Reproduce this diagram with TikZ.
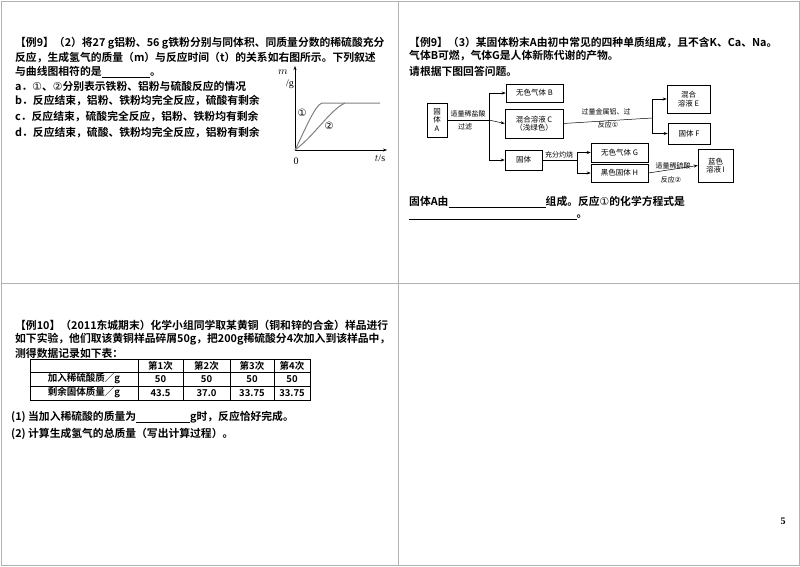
\documentclass[tikz,border=0pt]{standalone}
\usepackage{fontspec}
\setmainfont{Liberation Serif}
\newfontfamily\cjk{Noto Sans CJK SC}
\newfontfamily\cjkb{Noto Sans CJK SC Bold}
\newfontfamily\dejavu{DejaVu Sans}
\usetikzlibrary{arrows.meta}
\begin{document}
\begin{tikzpicture}[x=1pt,y=-1pt,
  txt/.style={anchor=west,inner sep=0pt,font=\cjkb\fontsize{10.8}{12}\selectfont},
  small/.style={inner sep=0pt,font=\cjk\fontsize{7}{8}\selectfont,align=center},
  bx/.style={draw,line width=0.6pt,inner sep=0pt,font=\cjk\fontsize{7.5}{8.5}\selectfont,align=center},
  ar/.style={-{Stealth[length=4pt,width=3pt]},line width=0.5pt},
  ln/.style={line width=0.5pt},
  cell/.style={inner sep=0pt,font=\cjkb\fontsize{9.5}{11}\selectfont}]
\useasboundingbox (0,0) rectangle (800,566);
\draw[gray!60,line width=1pt] (1,1) rectangle (799,565);
\draw[gray!60,line width=1pt] (398,1) -- (398,565) (1,283) -- (799,283);
% ---- top-left
\node[txt] (l1) at (15,43) {【例9】（2）将27 g铝粉、56 g铁粉分别与同体积、同质量分数的稀硫酸充分};
\node[txt] (l2) at (15,58) {反应，生成氢气的质量（m）与反应时间（t）的关系如右图所示。下列叙述};
\node[txt] (l3) at (15,72) {与曲线图相符的是\underline{\hspace{4.5em}}。};
\node[txt] (la) at (15,86) {a．{\dejavu ①}、{\dejavu ②}分别表示铁粉、铝粉与硫酸反应的情况};
\node[txt] (lb) at (15,101) {b．反应结束，铝粉、铁粉均完全反应，硫酸有剩余};
\node[txt] (lc) at (15,117) {c．反应结束，硫酸完全反应，铝粉、铁粉均有剩余};
\node[txt] (ld) at (15,133) {d．反应结束，硫酸、铁粉均完全反应，铝粉有剩余};
\coordinate (o) at (295,150);
\coordinate (ytop) at (295,66);
\coordinate (xend) at (387,150);
\draw[ar] (o) -- (ytop);
\draw[ar] (o) -- (xend);
\node[font=\itshape\fontsize{11}{11}\selectfont,inner sep=0pt] (m) at (283,72) {$m$};
\node[font=\fontsize{10}{10}\selectfont,inner sep=0pt] (g) at (290,84) {/g};
\node[font=\fontsize{10}{10}\selectfont,inner sep=0pt] (zero) at (296,161) {0};
\node[font=\fontsize{10}{10}\selectfont,inner sep=0pt] (ts) at (380,158) {$t$/s};
\draw[gray,line width=1pt] (o) .. controls (305,130) and (315,105) .. (322,103) -- (380,103);
\draw[gray,line width=1pt] (o) .. controls (315,135) and (330,110) .. (345,103);
\node[font=\dejavu\fontsize{10}{10}\selectfont,inner sep=0pt] (c1) at (302,113) {①};
\node[font=\dejavu\fontsize{10}{10}\selectfont,inner sep=0pt] (c2) at (329,126) {②};
% ---- top-right
\node[txt] (r1) at (409,43) {【例9】（3）某固体粉末A由初中常见的四种单质组成，且不含K、Ca、Na。};
\node[txt] (r2) at (409,56) {气体B可燃，气体G是人体新陈代谢的产物。};
\node[txt] (r3) at (409,71) {请根据下图回答问题。};
\node[bx,minimum width=20pt,minimum height=34pt] (A) at (437,120) {固\\体\\A};
\node[bx,minimum width=57pt,minimum height=18pt] (B) at (534.5,93) {无色气体 B};
\node[bx,minimum width=58pt,minimum height=29pt] (C) at (534,123.5) {混合溶液 C\\（浅绿色）};
\node[bx,minimum width=37pt,minimum height=20pt] (S) at (523.5,160) {固体};
\node[bx,minimum width=43pt,minimum height=28pt] (E) at (688.5,99) {混合\\溶液 E};
\node[bx,minimum width=42pt,minimum height=21pt] (F) at (689,133.5) {固体 F};
\node[bx,minimum width=57pt,minimum height=19pt] (G) at (619.5,152.5) {无色气体 G};
\node[bx,minimum width=57pt,minimum height=18pt] (H) at (619.5,173) {黑色固体 H};
\node[bx,minimum width=35pt,minimum height=33pt] (I) at (715.5,165.5) {蓝色\\溶液 I};
\coordinate (j1) at (489,120);
\draw[ln] (A.east) -- (j1);
\draw[ln] (489,93) -- (489,160);
\draw[ar] (489,93) -- (B.west);
\draw[ar] (j1) -- (C.west);
\draw[ar] (489,160) -- (S.west);
\node[small] (t1) at (468,114) {适量稀盐酸};
\node[small] (t2) at (465,127) {过滤};
\coordinate (j2) at (652,118);
\draw[ln] (C.east) -- (j2);
\draw[ln] (652,99) -- (652,133.5);
\draw[ar] (652,99) -- (E.west);
\draw[ar] (652,133.5) -- (F.west);
\node[small] (t3) at (606,112) {过量金属铝、过};
\node[small] (t4) at (608,125) {反应{\dejavu ①}};
\coordinate (j3) at (577,160);
\draw[ln] (S.east) -- (j3);
\draw[ln] (577,152.5) -- (577,173);
\draw[ar] (577,152.5) -- (G.west);
\draw[ar] (577,173) -- (H.west);
\node[small] (t5) at (559,155) {充分灼烧};
\draw[ar] (H.east) -- (I.west);
\node[small] (t6) at (673,165.5) {适量稀硫酸};
\node[small] (t7) at (671,180) {反应{\dejavu ②}};
\node[txt] (r4) at (409,202) {固体A由\underline{\hspace{9em}}组成。反应{\dejavu ①}的化学方程式是};
\node[txt] (r5) at (409,217) {\underline{\hspace{15.5em}}。};
% ---- bottom-left
\node[txt] (b1) at (15,325) {【例10】（2011东城期末）化学小组同学取某黄铜（铜和锌的合金）样品进行};
\node[txt] (b2) at (15,339) {如下实验，他们取该黄铜样品碎屑50g，把200g稀硫酸分4次加入到该样品中，};
\node[txt] (b3) at (15,353) {测得数据记录如下表：};
\draw[line width=0.6pt] (30,359) rectangle (310,400);
\draw[line width=0.5pt] (30,372) -- (310,372) (30,386) -- (310,386)
  (138,359) -- (138,400) (183,359) -- (183,400) (230,359) -- (230,400) (274,359) -- (274,400);
\node[cell] (h1) at (160.5,365.5) {第1次};
\node[cell] (h2) at (206.5,365.5) {第2次};
\node[cell] (h3) at (252,365.5) {第3次};
\node[cell] (h4) at (292,365.5) {第4次};
\node[cell] (rA) at (84,379) {加入稀硫酸质／g};
\node[cell] (rB) at (84,393) {剩余固体质量／g};
\node[cell] (a1) at (160.5,379) {50};
\node[cell] (a2) at (206.5,379) {50};
\node[cell] (a3) at (252,379) {50};
\node[cell] (a4) at (292,379) {50};
\node[cell] (d1) at (160.5,393) {43.5};
\node[cell] (d2) at (206.5,393) {37.0};
\node[cell] (d3) at (252,393) {33.75};
\node[cell] (d4) at (292,393) {33.75};
\node[txt] (q1) at (11,417) {(1) 当加入稀硫酸的质量为\underline{\hspace{5em}}g时，反应恰好完成。};
\node[txt] (q2) at (11,434) {(2) 计算生成氢气的总质量（写出计算过程）。};
\node[font=\bfseries\fontsize{10}{10}\selectfont,inner sep=0pt] (pg) at (783,521) {5};
\end{tikzpicture}
\end{document}
